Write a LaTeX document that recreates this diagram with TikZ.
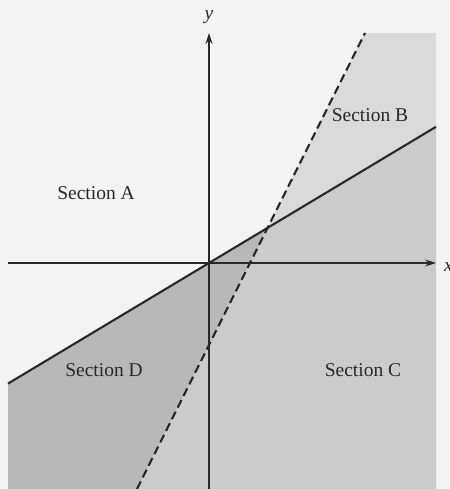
\documentclass[tikz,border=0pt]{standalone}
\usepackage{fontspec}
\setmainfont{Liberation Serif}
\usetikzlibrary{arrows.meta}
\definecolor{bgA}{RGB}{243,243,243}
\definecolor{shB}{RGB}{218,218,218}
\definecolor{shC}{RGB}{203,203,203}
\definecolor{shD}{RGB}{184,184,184}
\definecolor{ink}{RGB}{40,40,40}
\tikzset{
  axis/.style={draw=ink, line width=1.3pt, -{Stealth[length=11pt,width=7pt]}},
  solidline/.style={draw=ink, line width=2.1pt},
  dashline/.style={draw=ink, line width=2.1pt, dash pattern=on 8.5pt off 4.5pt},
  seclabel/.style={font=\fontsize{19.5}{21}\selectfont, text=ink, inner sep=0pt},
  axlabel/.style={font=\fontsize{19.5}{21}\selectfont\itshape, text=ink, inner sep=0pt}
}
\begin{document}
\begin{tikzpicture}[x=1pt,y=-1pt]
\useasboundingbox (0,0) rectangle (449,489);
\fill[bgA] (0,0) rectangle (449,489);
% key points
\coordinate (O) at (209,263);
\coordinate (S1) at (8,383.6);
\coordinate (S2) at (436,126.8);
\coordinate (D1) at (365,33);
\coordinate (D2) at (137,489);
\coordinate (P) at (267.6,227.4);
\coordinate (TR) at (436,33);
\coordinate (BR) at (436,489);
\coordinate (BL) at (8,489);
\coordinate (XL) at (8,263);
\coordinate (XR) at (436,263);
\coordinate (YB) at (209,489);
\coordinate (YT) at (209,33);
% shaded regions
\fill[shB] (D1) -- (TR) -- (S2) -- (P) -- cycle;
\fill[shC] (P) -- (S2) -- (BR) -- (D2) -- cycle;
\fill[shD] (S1) -- (P) -- (D2) -- (BL) -- cycle;
% axes
\draw[axis] (XL) -- (XR);
\draw[axis] (YB) -- (YT);
\node[axlabel] (ylab) at (209,17) {y};
\node[axlabel, anchor=west] (xlab) at (444,267) {x};
% lines
\draw[solidline] (S1) -- (S2);
\draw[dashline] (D2) -- (D1);
% labels
\node[seclabel] (A) at (96,193) {Section A};
\node[seclabel] (B) at (370,115) {Section B};
\node[seclabel] (C) at (363,370) {Section C};
\node[seclabel] (D) at (104,370) {Section D};
\end{tikzpicture}
\end{document}
